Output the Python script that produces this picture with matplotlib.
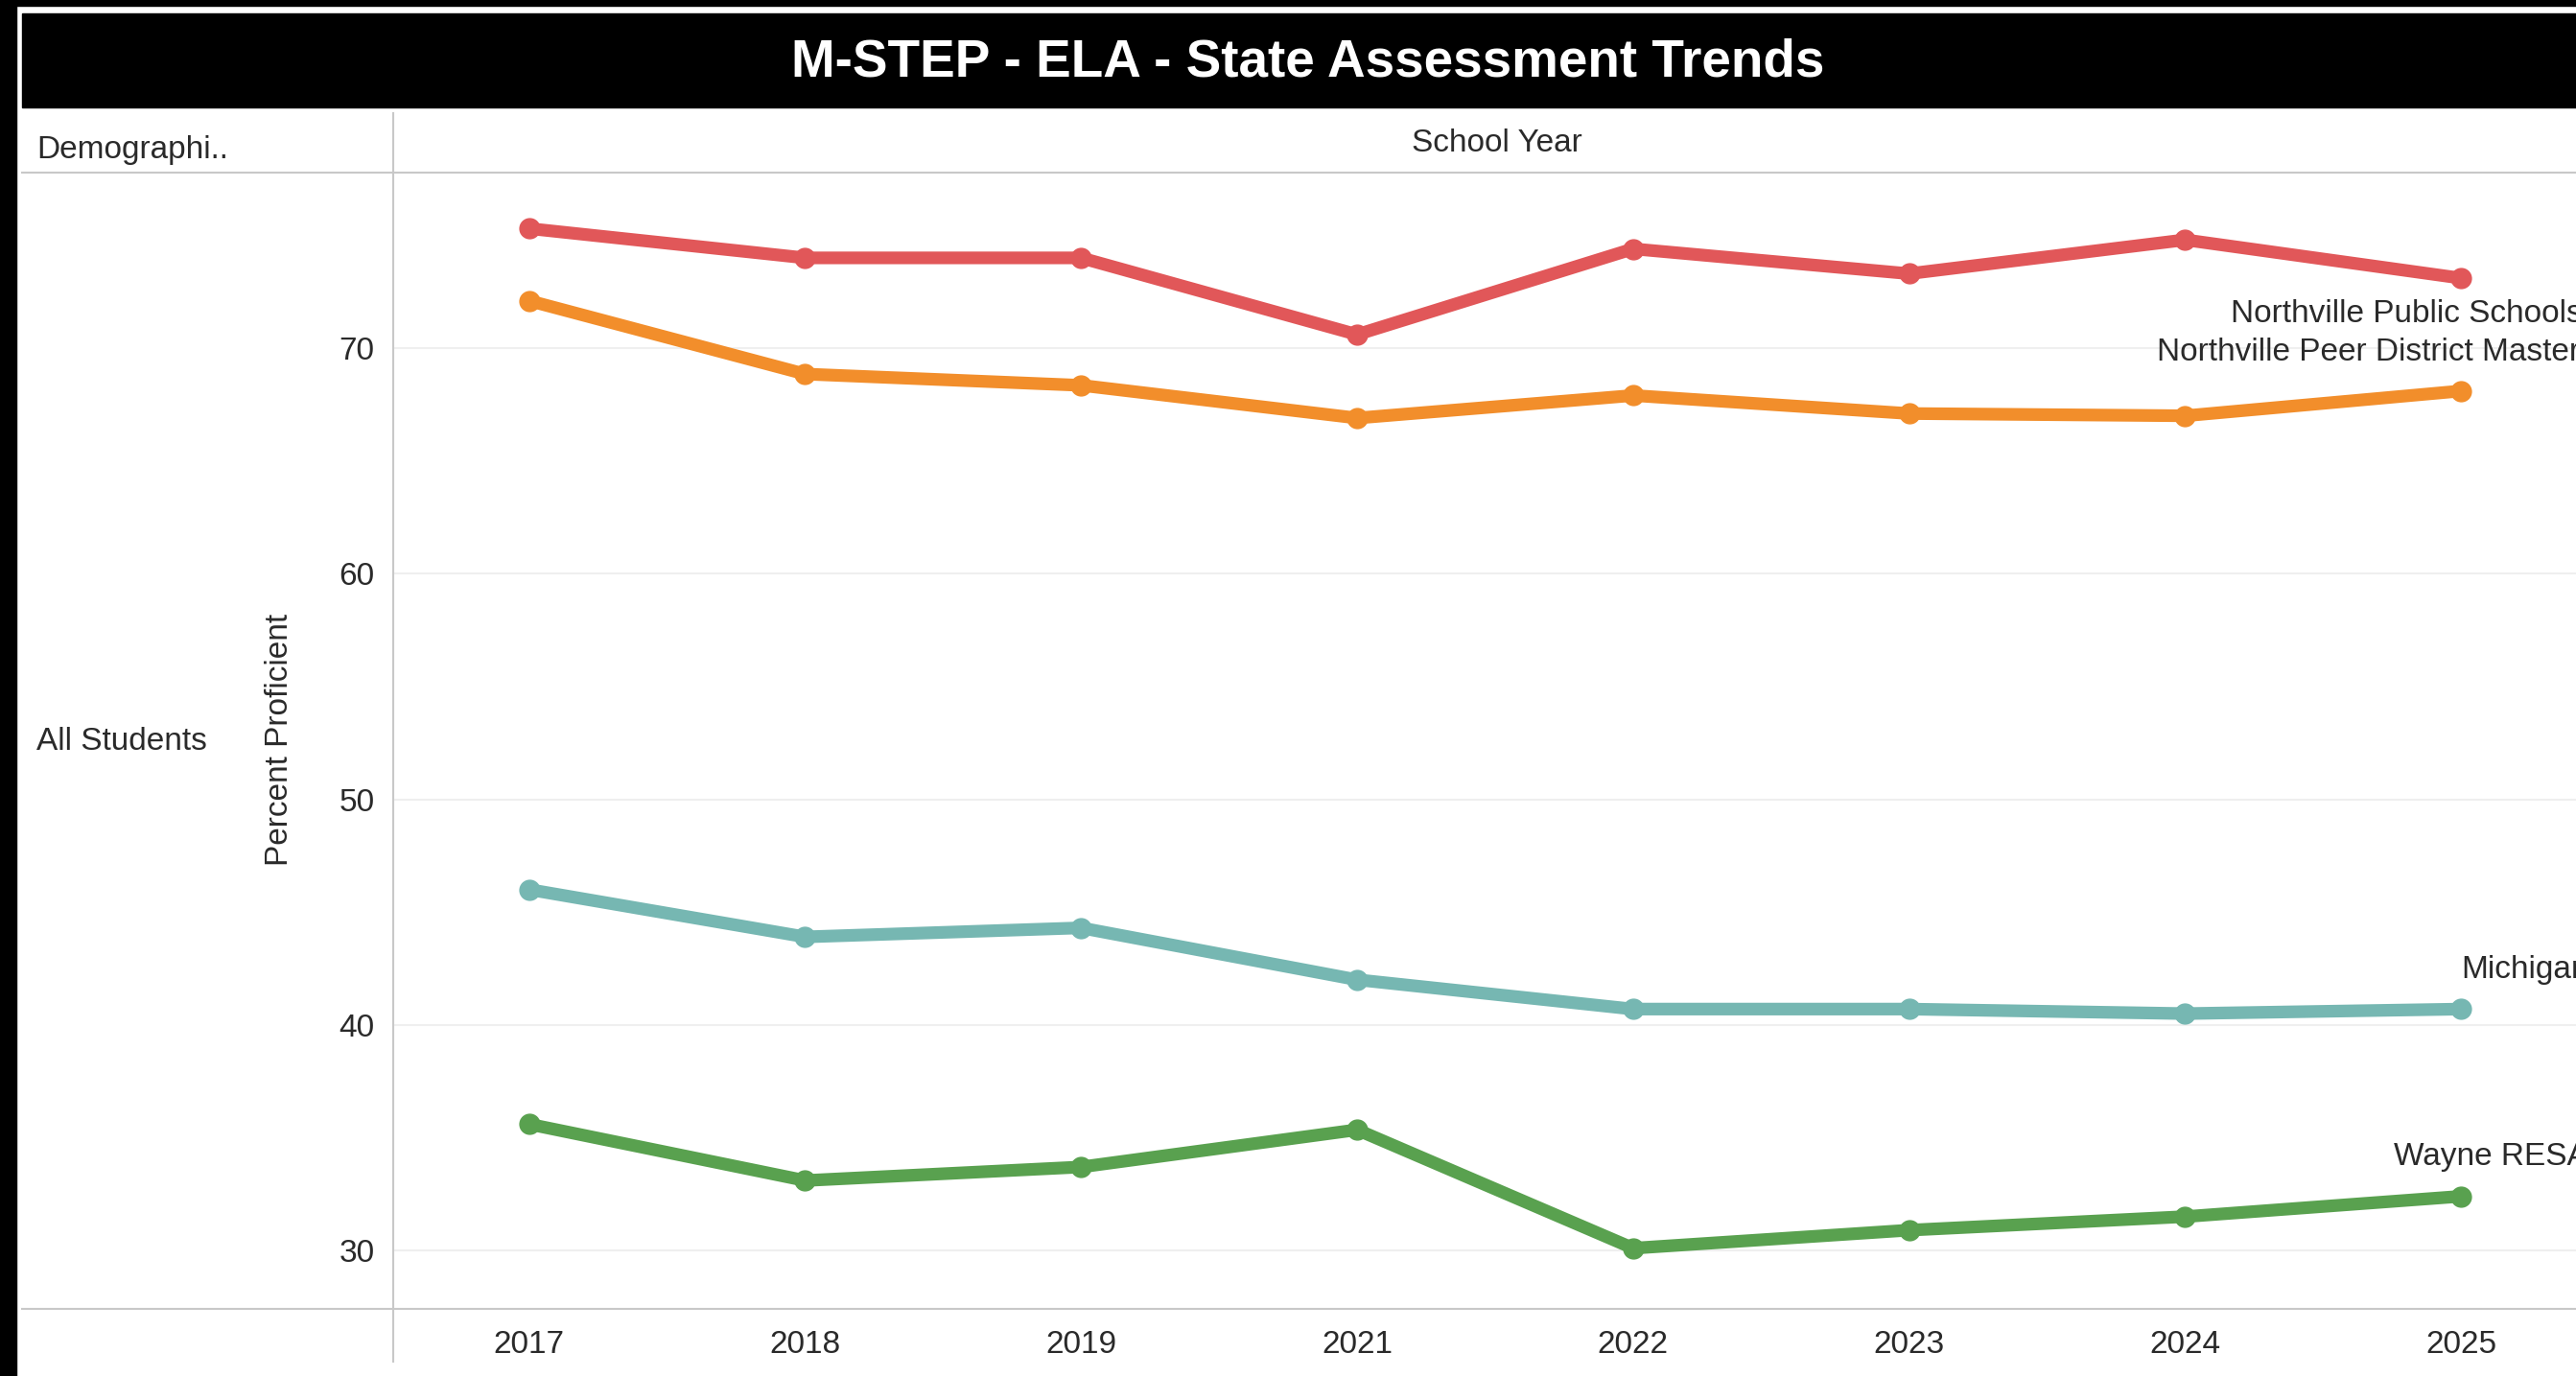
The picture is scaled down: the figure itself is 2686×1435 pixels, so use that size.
import matplotlib
matplotlib.use("Agg")
import matplotlib.pyplot as plt
from matplotlib.patches import Rectangle
from matplotlib.lines import Line2D

plt.rcParams['font.family'] = ['Liberation Sans', 'DejaVu Sans']

# data
years = ["2017", "2018", "2019", "2021", "2022", "2023", "2024", "2025"]
northville = [75.3, 74.0, 74.0, 70.6, 74.4, 73.3, 74.8, 73.1]
peer = [72.1, 68.85, 68.35, 66.9, 67.9, 67.1, 67.0, 68.1]
michigan = [46.0, 43.9, 44.3, 42.0, 40.7, 40.7, 40.5, 40.7]
wayne = [35.6, 33.1, 33.7, 35.35, 30.1, 30.9, 31.5, 32.4]

series_names = ["Northville Public Schools", "Northville Peer District Master",
                "Michigan", "Wayne RESA"]
series_vals = [northville, peer, michigan, wayne]
colors = ["#e15759", "#f28e2b", "#76b7b2", "#59a14f"]
# label offsets from the last point (pixels)
label_off = [(-240, -37), (-317, 40), (0, 41), (-70, 41)]

W, H = 2686, 1435
txt = "#2a2a2a"
fs = 24


def px(x):
    return x / W


def py(y):
    return 1 - y / H


fig = plt.figure(figsize=(W / 100, H / 100), dpi=100)
fig.patch.set_facecolor("white")

# black frame and title bar
fig.add_artist(Rectangle((0, 0), px(17), 1, transform=fig.transFigure, color="black", zorder=0))
fig.add_artist(Rectangle((0, py(6)), 1, 6 / H, transform=fig.transFigure, color="black", zorder=0))
fig.add_artist(Rectangle((px(23), py(112)), 1, 98 / H, transform=fig.transFigure, color="black", zorder=0))
fig.text(px(1364), py(65), "M-STEP - ELA - State Assessment Trends", color="white",
         fontsize=39.5, fontweight="bold", ha="center", va="center")

# header row and pane lines
gray = "#c8c8c8"
fig.add_artist(Line2D([px(23), 1], [py(180), py(180)], transform=fig.transFigure, color=gray, lw=1.5))
fig.add_artist(Line2D([px(23), 1], [py(1365), py(1365)], transform=fig.transFigure, color=gray, lw=1.5))
fig.add_artist(Line2D([px(410), px(410)], [py(118), py(1420)], transform=fig.transFigure, color=gray, lw=1.5))
fig.text(px(38), py(156), "Demographi..", color=txt, fontsize=fs, ha="left", va="center")
fig.text(px(1561), py(149), "School Year", color=txt, fontsize=fs, ha="center", va="center")
fig.text(px(38), py(773), "All Students", color=txt, fontsize=fs, ha="left", va="center")
fig.text(px(291), py(771), "Percent Proficient", color=txt, fontsize=fs, ha="center",
         va="center", rotation=90)

ax = fig.add_axes([px(410), py(1365), px(2686 - 410), (1365 - 180) / H])
ax.set_facecolor("none")
xs = list(range(len(years)))
for name, vals, c, off in zip(series_names, series_vals, colors, label_off):
    ax.plot(xs, vals, color=c, lw=9.5, marker="o", ms=15, solid_joinstyle="round",
            solid_capstyle="round", zorder=3)
    ax.annotate(name, xy=(xs[-1], vals[-1]), xytext=off, textcoords="offset pixels",
                color=txt, fontsize=fs, ha="left", va="center", annotation_clip=False)

ax.set_xlim(-0.492, 7.416)
ax.set_ylim(27.41, 77.78)
ax.set_xticks(xs)
ax.set_xticklabels(years)
ax.set_yticks([30, 40, 50, 60, 70])
ax.tick_params(axis="both", length=0, labelsize=fs, labelcolor=txt)
ax.tick_params(axis="y", pad=14)
ax.tick_params(axis="x", pad=16)
ax.grid(axis="y", color="#efefef", lw=1.5)
ax.set_axisbelow(True)
for s in ax.spines.values():
    s.set_visible(False)

fig.savefig("out.png", dpi=100)
